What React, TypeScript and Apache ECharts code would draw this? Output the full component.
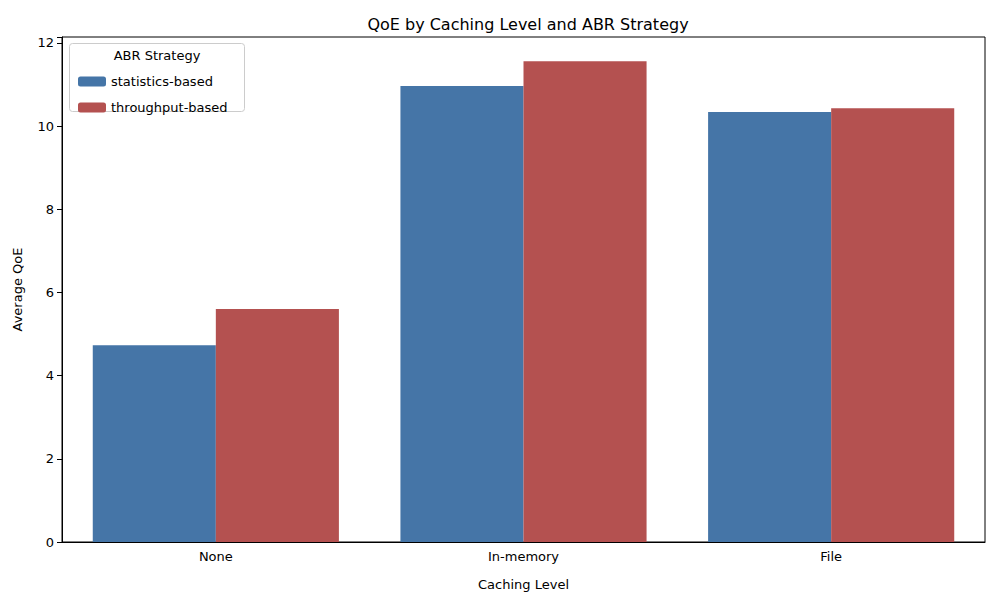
import { useEffect, useRef } from 'react'
import * as echarts from 'echarts'

const categories = ['None', 'In-memory', 'File']
const statisticsBased = [4.73, 10.96, 10.34]
const throughputBased = [5.6, 11.56, 10.43]
const yTicks = [0, 2, 4, 6, 8, 10, 12]

const font = 'DejaVu Sans'

const App = () => {
  const chartRef = useRef<HTMLDivElement>(null)

  useEffect(() => {
    if (!chartRef.current) return
    document.body.style.margin = '0'
    const chart = echarts.init(chartRef.current, undefined, { renderer: 'svg' })

    chart.setOption({
      animation: false,
      textStyle: { fontFamily: font },
      title: {
        text: 'QoE by Caching Level and ABR Strategy',
        left: 523,
        top: 11,
        textAlign: 'center',
        textStyle: { fontSize: 16, fontWeight: 'normal', color: '#000', fontFamily: font }
      },
      grid: { left: 62, right: 15, top: 37, bottom: 58, show: true, borderColor: '#000', borderWidth: 1 },
      legend: {
        orient: 'vertical',
        left: 73,
        top: 70,
        itemWidth: 28,
        itemHeight: 10,
        itemGap: 13,
        textStyle: { fontSize: 13, color: '#000' },
        data: ['statistics-based', 'throughput-based']
      },
      graphic: [
        {
          type: 'rect',
          shape: { x: 69.5, y: 43.5, width: 175, height: 68, r: 3 },
          style: { fill: 'rgba(255,255,255,0.8)', stroke: '#ccc', lineWidth: 1 },
          z: 0
        },
        {
          type: 'text',
          x: 157,
          y: 49,
          style: { text: 'ABR Strategy', fill: '#000', font: `13px ${font}`, align: 'center' },
          z: 10
        }
      ],
      xAxis: {
        type: 'category',
        data: categories,
        name: 'Caching Level',
        nameLocation: 'middle',
        nameGap: 36,
        nameTextStyle: { fontSize: 13, color: '#000' },
        axisLine: { lineStyle: { color: '#000' } },
        axisTick: { alignWithLabel: true, lineStyle: { color: '#000' }, length: 5 },
        axisLabel: { fontSize: 13, color: '#000', margin: 8 }
      },
      yAxis: {
        type: 'value',
        min: 0,
        max: 12.14,
        interval: 2,
        name: 'Average QoE',
        nameLocation: 'middle',
        nameGap: 38,
        nameTextStyle: { fontSize: 13, color: '#000' },
        axisLine: { show: true, lineStyle: { color: '#000' } },
        axisTick: { show: true, lineStyle: { color: '#000' }, length: 5 },
        axisLabel: {
          fontSize: 13,
          color: '#000',
          formatter: (v: number) => (yTicks.includes(v) ? String(v) : '')
        },
        splitLine: { show: false }
      },
      series: [
        {
          name: 'statistics-based',
          type: 'bar',
          data: statisticsBased,
          itemStyle: { color: '#4575a7' },
          barGap: '0%',
          barCategoryGap: '20%'
        },
        {
          name: 'throughput-based',
          type: 'bar',
          data: throughputBased,
          itemStyle: { color: '#b45150' },
          barGap: '0%',
          barCategoryGap: '20%'
        }
      ]
    })

    return () => chart.dispose()
  }, [])

  return <div ref={chartRef} style={{ width: 1000, height: 600 }} />
}

export default App
